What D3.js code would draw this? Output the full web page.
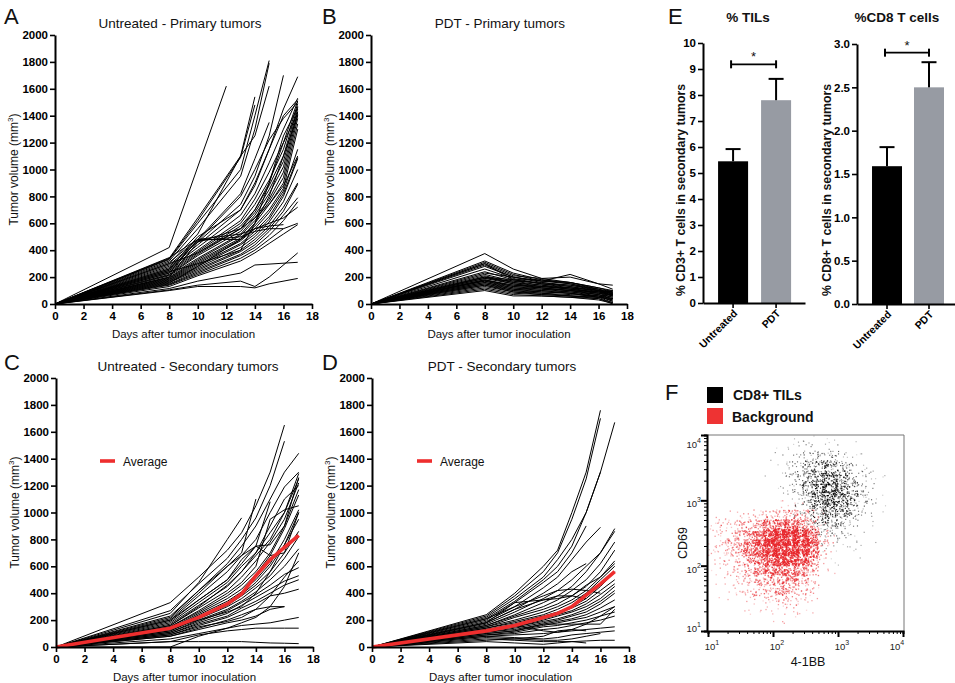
<!DOCTYPE html>
<html><head><meta charset="utf-8">
<script src="https://cdn.jsdelivr.net/npm/d3@7"></script>
<style>body{margin:0;background:#fff}svg{display:block}text{font-family:"Liberation Sans",Arial,sans-serif}</style>
</head><body><svg id="fig" width="955" height="683"></svg>
<script>
// ---------------- DATA ----------------
const timeTicksX = [0,2,4,6,8,10,12,14,16,18];
const timeTicksY = [0,200,400,600,800,1000,1200,1400,1600,1800,2000];

const daysA = [0,8,10,12,13,14,15,16,17];
const untreatedPrimary = [
 [0,420,null,1620,null,null,null,null,null],
 [0,340,640,null,1100,1540,null,null,null],
 [0,335,620,null,1090,1480,null,null,null],
 [0,330,600,null,1000,1400,1810,null,null],
 [0,320,560,null,950,1300,1790,null,null],
 [0,300,520,null,1100,1250,1620,null,null],
 [0,310,480,null,820,1080,1350,null,null],
 [0,290,470,null,800,1000,1220,1380,1500],
 [0,280,460,null,740,950,1250,1700,null],
 [0,270,440,null,700,880,1150,1450,1690],
 [0,260,420,null,660,820,1050,1300,1530],
 [0,250,400,null,620,780,980,1200,1510],
 [0,240,390,null,600,740,920,1150,1490],
 [0,230,380,null,580,700,880,1100,1470],
 [0,220,370,null,560,680,850,1060,1450],
 [0,215,360,null,540,660,820,1020,1430],
 [0,210,340,null,520,640,780,980,1410],
 [0,200,330,null,510,620,760,940,1380],
 [0,195,320,null,490,600,740,900,1340],
 [0,190,310,null,480,580,700,860,1300],
 [0,185,300,null,470,560,680,840,1150],
 [0,180,290,null,450,540,650,820,1090],
 [0,175,280,null,440,520,630,800,1080],
 [0,170,270,null,420,500,610,760,1000],
 [0,165,260,null,400,480,580,720,900],
 [0,160,250,null,390,460,560,690,890],
 [0,150,240,null,370,440,540,660,790],
 [0,145,230,null,360,420,510,620,760],
 [0,140,220,null,340,400,480,560,600],
 [0,130,210,null,320,380,450,520,590],
 [0,230,480,null,520,560,580,590,null],
 [0,250,470,null,500,540,560,560,null],
 [0,115,170,null,230,290,null,null,310],
 [0,100,130,null,130,120,150,null,190],
 [0,105,140,null,170,130,200,null,380],
 [0,345,480,null,480,600,800,1100,1400],
 [0,300,380,null,560,700,900,1250,1460],
 [0,200,460,null,560,640,740,880,1100],
 [0,240,300,null,400,600,900,1200,1420],
 [0,260,500,null,700,900,1150,1400,1520],
 [0,155,280,null,480,560,600,640,720]
];

const daysB = [0,8,10,12,14,16,17];
const pdtPrimary = [
 [0,375,260,190,160,110,90],
 [0,320,230,180,150,100,80],
 [0,310,220,170,220,150,140],
 [0,300,210,190,200,150,110],
 [0,290,200,170,160,120,100],
 [0,280,200,160,130,90,70],
 [0,260,190,150,120,80,60],
 [0,240,180,150,130,100,90],
 [0,220,170,140,110,80,50],
 [0,210,160,130,110,90,80],
 [0,200,150,120,100,70,40],
 [0,200,160,140,120,100,60],
 [0,190,150,130,110,90,100],
 [0,180,140,120,100,70,30],
 [0,180,130,110,90,60,20],
 [0,170,130,120,100,80,70],
 [0,170,120,100,80,50,10],
 [0,160,120,110,100,90,60],
 [0,160,110,90,80,60,40],
 [0,150,110,100,90,70,50],
 [0,150,100,90,80,50,30],
 [0,140,100,80,70,60,20],
 [0,140,90,80,60,40,0],
 [0,130,90,70,60,50,40],
 [0,120,80,70,60,50,80],
 [0,110,70,60,50,40,10],
 [0,100,60,60,50,30,5],
 [0,200,180,180,160,120,90],
 [0,190,170,160,140,110,70],
 [0,175,140,130,120,100,85],
 [0,300,180,150,140,100,60],
 [0,230,200,170,150,110,75]
];

const daysC = [0,8,10,12,13,14,15,16,17];
const untreatedSecondary = [
 [0,330,520,720,850,1050,1300,1650,null],
 [0,270,470,660,800,960,1200,1530,null],
 [0,250,480,800,960,null,null,null,null],
 [0,220,420,620,750,900,1100,1300,1440],
 [0,210,400,600,700,1100,null,null,null],
 [0,200,380,560,680,800,1000,1190,1300],
 [0,190,350,500,620,750,1080,null,null],
 [0,180,330,480,600,700,850,1000,1290],
 [0,170,310,450,560,680,800,1000,1250],
 [0,160,290,420,520,640,780,950,1220],
 [0,150,270,400,480,600,950,1020,1050],
 [0,150,260,380,460,560,700,900,1170],
 [0,140,250,360,430,540,680,880,1130],
 [0,130,240,340,410,500,620,800,1020],
 [0,130,230,320,390,480,600,760,950],
 [0,120,220,310,380,460,560,700,860],
 [0,120,210,300,360,440,530,660,820],
 [0,110,200,280,340,410,500,600,730],
 [0,110,190,270,330,390,460,540,590],
 [0,100,180,250,310,370,430,490,530],
 [0,100,170,230,290,340,400,460,500],
 [0,90,160,220,270,320,380,400,430],
 [0,80,140,200,240,280,300,300,null],
 [0,80,130,180,200,230,280,300,null],
 [0,60,100,140,160,170,180,200,220],
 [0,40,90,120,130,140,140,140,140],
 [0,40,40,40,40,35,30,28,25],
 [0,0,80,140,180,220,300,450,700],
 [0,200,350,500,650,750,680,700,1000],
 [0,230,420,600,680,750,760,900,1260],
 [0,160,300,460,560,700,900,1100,1200],
 [0,140,200,260,300,400,560,760,1000],
 [0,90,150,190,220,280,380,520,640]
];
const untreatedSecondaryAvg = [0,140,220,320,395,530,650,740,830];

const daysD = [0,8,10,12,13,14,15,16,17];
const pdtSecondary = [
 [0,240,400,600,720,1000,1300,1760,null],
 [0,230,380,560,700,950,1250,1700,null],
 [0,220,360,520,650,800,1000,1300,1670],
 [0,210,340,500,600,750,1000,1300,null],
 [0,200,330,480,560,700,900,null,null],
 [0,190,300,440,520,650,780,890,null],
 [0,180,280,400,470,560,620,null,null],
 [0,170,260,360,420,500,600,700,880],
 [0,160,240,330,380,450,560,700,860],
 [0,160,230,300,350,420,500,620,780],
 [0,150,220,280,320,380,450,560,720],
 [0,150,200,260,300,350,420,520,640],
 [0,140,190,240,280,330,400,500,600],
 [0,140,180,230,260,300,360,450,560],
 [0,130,170,220,250,290,340,420,500],
 [0,130,160,210,240,270,320,390,470],
 [0,120,150,200,230,260,300,360,450],
 [0,120,150,190,210,240,280,340,420],
 [0,110,140,180,200,230,260,320,400],
 [0,110,130,170,190,210,240,290,350],
 [0,100,120,160,180,200,220,260,300],
 [0,100,120,170,170,170,170,170,280],
 [0,90,110,150,160,180,200,230,260],
 [0,90,100,130,140,160,180,200,230],
 [0,80,90,100,110,120,130,140,150],
 [0,80,70,60,70,90,100,110,120],
 [0,70,60,50,50,60,80,100,null],
 [0,60,50,40,40,40,45,50,50],
 [0,50,60,80,120,130,120,null,null],
 [0,40,30,20,30,40,30,null,null],
 [0,210,300,380,420,430,420,400,null],
 [0,180,280,350,380,380,360,null,null],
 [0,180,330,350,360,380,460,520,620],
 [0,120,160,120,110,130,170,230,300]
];
const pdtSecondaryAvg = [0,120,160,220,250,300,385,470,560];

const barGroups = ["Untreated","PDT"];
const barColors = ["#000000","#979ba3"];
const tilMean = [5.45,7.8];
const tilSem = [0.47,0.82];
const tilTicks = [0,1,2,3,4,5,6,7,8,9,10];
const cd8Mean = [1.59,2.5];
const cd8Sem = [0.22,0.29];
const cd8Ticks = [0,0.5,1.0,1.5,2.0,2.5,3.0];

const flowDecades = [10,100,1000,10000];
const flowExponents = ["1","2","3","4"];
// Density of events per cell (0-9), 20x20 grid over log10 1..4 (rows: top=10^4 to bottom=10^1)
const redDensity = [
 "00000000000000000000",
 "00000000000000000000",
 "00000000000000000000",
 "00000000000000000000",
 "00000000000000000000",
 "00000000000000000000",
 "00000000000000000000",
 "00000112221000000000",
 "12223445554200000000",
 "23345678876310000000",
 "23456899998420000000",
 "23457899998420000000",
 "22346789987310000000",
 "12335677765210000000",
 "12234556654100000000",
 "01223445543100000000",
 "01122334432000000000",
 "00111222321000000000",
 "00001112110000000000",
 "00000000000000000000"
];
const blackDensity = [
 "00000001112111000000",
 "00000001223332110000",
 "00000012345554321000",
 "00000012456776532100",
 "00000001356887643100",
 "00000001357898653100",
 "00000000246898754100",
 "00000000135787643100",
 "00000000124676532000",
 "00000000012454321000",
 "00000000001343221000",
 "00000000000122111000",
 "00000000000011110000",
 "00000000000001000000",
 "00000000000000000000",
 "00000000000000000000",
 "00000000000000000000",
 "00000000000000000000",
 "00000000000000000000",
 "00000000000000000000"
];

// ---------------- DRAW ----------------
const svg = d3.select("#fig");
const FONT = '"Liberation Sans",Arial,sans-serif';

function letter(t,x,y){
  svg.append("text").attr("x",x).attr("y",y).attr("font-size",22).attr("fill","#111").text(t);
}
function styleAxis(g,fs){
  g.attr("font-family",FONT);
  g.select(".domain").attr("stroke","#000").attr("stroke-width",2);
  g.selectAll(".tick line").attr("stroke","#000").attr("stroke-width",1.6);
  g.selectAll(".tick text").attr("fill","#000").attr("font-weight","bold").attr("font-size",fs||11.5);
}

function timePanel(o){
  const x = d3.scaleLinear().domain([0,18]).range([o.x0,o.x1]);
  const y = d3.scaleLinear().domain([0,2000]).range([o.yb,o.yt]);
  const g = svg.append("g");
  const line = d3.line().x(p=>x(p[0])).y(p=>y(p[1]));
  g.selectAll("path.tl").data(o.lines).join("path").attr("class","tl")
    .attr("d",v=>line(o.days.map((d,i)=>[d,v[i]]).filter(p=>p[1]!=null)))
    .attr("fill","none").attr("stroke","#000").attr("stroke-width",1);
  if(o.avg){
    g.append("path").attr("d",line(o.days.map((d,i)=>[d,o.avg[i]])))
      .attr("fill","none").attr("stroke","#ee2e2e").attr("stroke-width",3.6).attr("stroke-linejoin","round");
    g.append("line").attr("x1",o.legX).attr("x2",o.legX+15).attr("y1",o.legY).attr("y2",o.legY)
      .attr("stroke","#ee2e2e").attr("stroke-width",3.6);
    g.append("text").attr("x",o.legX+23).attr("y",o.legY+4.5).attr("font-size",12).attr("fill","#111").text("Average");
  }
  const ga = g.append("g").attr("transform",`translate(0,${o.yb})`)
    .call(d3.axisBottom(x).tickValues(timeTicksX).tickFormat(d3.format("d")).tickSize(5).tickSizeOuter(0).tickPadding(3));
  styleAxis(ga);
  const gy = g.append("g").attr("transform",`translate(${o.x0},0)`)
    .call(d3.axisLeft(y).tickValues(timeTicksY).tickFormat(d3.format("d")).tickSize(5).tickSizeOuter(0).tickPadding(2));
  styleAxis(gy);
  g.append("text").attr("x",o.titleX).attr("y",o.yt-7).attr("text-anchor","middle")
    .attr("font-size",13.5).attr("fill","#111").text(o.title);
  g.append("text").attr("x",(o.x0+o.x1)/2).attr("y",o.yb+34).attr("text-anchor","middle")
    .attr("font-size",11.5).attr("fill","#111").text("Days after tumor inoculation");
  const yl = g.append("text").attr("transform",`translate(${o.x0-37},${(o.yt+o.yb)/2}) rotate(-90)`)
    .attr("text-anchor","middle").attr("font-size",12).attr("fill","#111");
  yl.append("tspan").text("Tumor volume (mm");
  yl.append("tspan").attr("font-size",8).attr("dy",-5).text("3");
  yl.append("tspan").attr("dy",5).text(")");
}

timePanel({x0:55,x1:312,yt:35,yb:304,days:daysA,lines:untreatedPrimary,title:"Untreated - Primary tumors",titleX:180});
timePanel({x0:371,x1:627,yt:35,yb:304,days:daysB,lines:pdtPrimary,title:"PDT - Primary tumors",titleX:500});
timePanel({x0:56,x1:313,yt:378,yb:647,days:daysC,lines:untreatedSecondary,avg:untreatedSecondaryAvg,
  title:"Untreated - Secondary tumors",titleX:188,legX:100,legY:461});
timePanel({x0:372,x1:629,yt:378,yb:647,days:daysD,lines:pdtSecondary,avg:pdtSecondaryAvg,
  title:"PDT - Secondary tumors",titleX:502,legX:417,legY:461});
letter("A",4,24); letter("B",322,24); letter("C",4,370); letter("D",322,370);

// ---- Bar charts (E) ----
function barPanel(o){
  const x = d3.scaleBand().domain(barGroups).range([o.ax,o.xe]).paddingInner(o.pi).paddingOuter(o.po).align(o.al);
  const y = d3.scaleLinear().domain([0,o.max]).range([o.yb,o.yt]);
  const g = svg.append("g");
  const bw = x.bandwidth();
  g.selectAll("rect.bar").data(barGroups).join("rect").attr("class","bar")
    .attr("x",d=>x(d)).attr("width",bw).attr("y",(d,i)=>y(o.mean[i])).attr("height",(d,i)=>y(0)-y(o.mean[i]))
    .attr("fill",(d,i)=>barColors[i]);
  barGroups.forEach((d,i)=>{
    const cx = x(d)+bw/2;
    g.append("line").attr("x1",cx).attr("x2",cx).attr("y1",y(o.mean[i])).attr("y2",y(o.mean[i]+o.sem[i]))
      .attr("stroke","#000").attr("stroke-width",2);
    g.append("line").attr("x1",cx-7.5).attr("x2",cx+7.5).attr("y1",y(o.mean[i]+o.sem[i])).attr("y2",y(o.mean[i]+o.sem[i]))
      .attr("stroke","#000").attr("stroke-width",2);
  });
  const bx1 = x(barGroups[0])+bw/2-2, bx2 = x(barGroups[1])+bw/2, by = y(o.brk);
  g.append("line").attr("x1",bx1).attr("x2",bx2).attr("y1",by).attr("y2",by).attr("stroke","#000").attr("stroke-width",1.8);
  [bx1,bx2].forEach(bx=>g.append("line").attr("x1",bx).attr("x2",bx).attr("y1",by-4).attr("y2",by+4).attr("stroke","#000").attr("stroke-width",2));
  g.append("text").attr("x",(bx1+bx2)/2).attr("y",by-3).attr("text-anchor","middle").attr("font-size",13).attr("fill","#111").text("*");
  const gx = g.append("g").attr("transform",`translate(0,${o.yb})`)
    .call(d3.axisBottom(x).tickSize(5).tickSizeOuter(0));
  styleAxis(gx,10.5);
  gx.selectAll(".tick text").attr("x",0).attr("y",0).attr("dy",0).attr("text-anchor","end")
    .attr("transform","translate(5,11) rotate(-45)");
  const gy = g.append("g").attr("transform",`translate(${o.ax},0)`)
    .call(d3.axisLeft(y).tickValues(o.ticks).tickFormat(o.fmt).tickSize(5).tickSizeOuter(0).tickPadding(2));
  styleAxis(gy);
  g.append("text").attr("x",o.titleX).attr("y",22).attr("text-anchor","middle").attr("font-size",13.5)
    .attr("font-weight","bold").attr("fill","#111").text(o.title);
  g.append("text").attr("transform",`translate(${o.ylX},190) rotate(-90)`).attr("text-anchor","middle")
    .attr("font-size",12.3).attr("font-weight","bold").attr("fill","#111").text(o.ylab);
}
barPanel({ax:703,xe:805,yt:43,yb:303,max:10,mean:tilMean,sem:tilSem,ticks:tilTicks,fmt:d3.format("d"),
  pi:0.302,po:0.337,al:0.52,brk:9.18,title:"% TILs",titleX:748,ylX:685,ylab:"% CD3+ T cells in secondary tumors"});
barPanel({ax:857,xe:955,yt:44,yb:304,max:3,mean:cd8Mean,sem:cd8Sem,ticks:cd8Ticks,fmt:d3.format(".1f"),
  pi:0.286,po:0.31,al:0.577,brk:2.9,title:"%CD8 T cells",titleX:897,ylX:831,ylab:"% CD8+ T cells in secondary tumors"});
letter("E",668,24);

// ---- Flow cytometry (F) ----
(function(){
  const L=707,R=904,T=435,B=631;
  const x = d3.scaleLog().domain([10,10000]).range([708,903]);
  const y = d3.scaleLog().domain([10,10000]).range([631,435]);
  const g = svg.append("g");
  const cell = 0.15;
  const dots = [];
  let k = 0;
  const jit = n => { const s = Math.sin(n*12.9898+78.233)*43758.5453; return s-Math.floor(s); };
  function addDensity(grid,pop,scale){
    grid.forEach((row,i)=>{
      [...row].forEach((ch,j)=>{
        const d = +ch; if(!d) return;
        const n = Math.max(1,Math.round(Math.pow(d,2.2)*scale));
        for(let m=0;m<n;m++){
          k++;
          const u = jit(k*2+1), v = jit(k*2+7.31);
          const lx = Math.min(3.98,Math.max(1.01,1+(j+u*1.7-0.35)*cell));
          const ly = Math.min(3.99,Math.max(1.02,4-(i+v*1.7-0.35)*cell));
          dots.push({pop,d,vx:Math.pow(10,lx),vy:Math.pow(10,ly),k});
        }
      });
    });
  }
  addDensity(redDensity,"bg",0.85);
  addDensity(blackDensity,"cd8",0.45);
  const varOp=[1,0.55,0.9,0.4,0.75,1];
  g.selectAll("rect.dot").data(dots).join("rect").attr("class","dot")
    .attr("x",d=>x(d.vx)-0.6).attr("y",d=>y(d.vy)-0.6)
    .attr("width",d=>d.pop==="bg"?1.3:1.15).attr("height",d=>d.pop==="bg"?1.3:1.15)
    .attr("fill",d=>d.pop==="bg"?"#e8262b":"#000")
    .attr("opacity",d=>(0.3+0.7*d.d/9)*varOp[d.k%6]);
  g.append("line").attr("x1",L).attr("x2",R).attr("y1",T).attr("y2",T).attr("stroke","#777").attr("stroke-width",1);
  g.append("line").attr("x1",R).attr("x2",R).attr("y1",T).attr("y2",B).attr("stroke","#777").attr("stroke-width",1);
  const minor = x.ticks().filter(v=>!flowDecades.includes(v));
  const gx = g.append("g").attr("transform",`translate(0,${B})`).call(d3.axisBottom(x).tickValues(minor).tickSize(3).tickFormat(""));
  gx.select(".domain").attr("stroke","#000").attr("stroke-width",2);
  gx.selectAll(".tick line").attr("stroke","#000").attr("stroke-width",1);
  const gx2 = g.append("g").attr("transform",`translate(0,${B})`).call(d3.axisBottom(x).tickValues(flowDecades).tickSize(6).tickFormat(""));
  gx2.select(".domain").remove(); gx2.selectAll(".tick line").attr("stroke","#000").attr("stroke-width",2);
  const gy = g.append("g").attr("transform",`translate(${L},0)`).call(d3.axisLeft(y).tickValues(minor).tickSize(3).tickFormat(""));
  gy.select(".domain").attr("stroke","#000").attr("stroke-width",2);
  gy.selectAll(".tick line").attr("stroke","#000").attr("stroke-width",1);
  const gy2 = g.append("g").attr("transform",`translate(${L},0)`).call(d3.axisLeft(y).tickValues(flowDecades).tickSize(6).tickFormat(""));
  gy2.select(".domain").remove(); gy2.selectAll(".tick line").attr("stroke","#000").attr("stroke-width",2);
  flowDecades.forEach((v,i)=>{
    const tx = g.append("text").attr("x",x(v)+(i===3?-6:4)).attr("y",B+19).attr("text-anchor","middle")
      .attr("font-size",9.5).attr("fill","#222");
    tx.append("tspan").text("10"); tx.append("tspan").attr("font-size",7).attr("dy",-5).text(flowExponents[i]);
    const ty = g.append("text").attr("x",L-6).attr("y",y(v)+(i===3?13:(i===0?1:7))).attr("text-anchor","end")
      .attr("font-size",9.5).attr("fill","#222");
    ty.append("tspan").text("10"); ty.append("tspan").attr("font-size",7).attr("dy",-5).text(flowExponents[i]);
  });
  g.append("text").attr("x",808).attr("y",666).attr("text-anchor","middle").attr("font-size",12.5).attr("fill","#111").text("4-1BB");
  g.append("text").attr("transform","translate(687,543) rotate(-90)").attr("text-anchor","middle").attr("font-size",12.5).attr("fill","#111").text("CD69");
  g.append("rect").attr("x",707).attr("y",387).attr("width",16).attr("height",16).attr("fill","#000");
  g.append("rect").attr("x",707).attr("y",408).attr("width",16).attr("height",16).attr("fill","#ee3333");
  g.append("text").attr("x",733).attr("y",400).attr("font-size",14).attr("font-weight","bold").attr("fill","#111").text("CD8+ TILs");
  g.append("text").attr("x",732).attr("y",422).attr("font-size",14).attr("font-weight","bold").attr("fill","#111").text("Background");
})();
letter("F",665,400);
</script></body></html>
